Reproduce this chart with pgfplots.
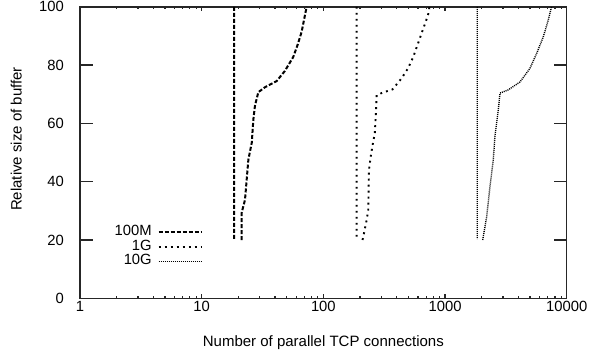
\documentclass[border=0pt]{standalone}
\usepackage{fontspec}
\setmainfont{Liberation Sans}
\usepackage{pgfplots}
\pgfplotsset{compat=1.18}
\begin{document}
\fontsize{15}{17.5}\selectfont
\begin{tikzpicture}
\begin{axis}[
  scale only axis, width=486.7pt, height=291.5pt,
  xmode=log, log basis x=10,
  xmin=1, xmax=10000, ymin=0, ymax=100,
  xtick={1,10,100,1000,10000}, xticklabels={1,10,100,1000,10000},
  minor xtick={2,3,...,9,20,30,...,90,200,300,...,900,2000,3000,...,9000},
  ytick={0,20,40,60,80,100}, yticklabels={0,20,40,60,80,100},
  /pgf/number format/assume math mode=true,
  tick align=inside, tick pos=both,
  xticklabel pos=bottom, yticklabel pos=left,
  axis line style={line width=1.5pt, black!85},
  major tick length=13pt,
  every tick/.style={line width=1.5pt, black!85},
  xtick style={/pgfplots/major tick length=4pt, /pgfplots/minor tick length=2.5pt, line width=1.2pt},
  yticklabel style={inner sep=0pt, xshift=-16pt, font=\fontsize{14.8}{17}\selectfont},
  xticklabel style={inner sep=0pt, yshift=-3pt, font=\fontsize{14.8}{17}\selectfont},
  xlabel={Number of parallel TCP connections},
  ylabel={Relative size of buffer},
  xlabel style={at={(axis description cs:0.5,-0.166)}, anchor=base, font=\fontsize{15}{17.5}\selectfont},
  ylabel style={at={(axis description cs:-0.1198,0.5465)}, anchor=base, font=\fontsize{15}{17.5}\selectfont},
  unbounded coords=jump,
  legend plot pos=right,
  legend cell align=right,
  legend image code/.code={\draw[#1] (0pt,0pt) -- (43pt,0pt);},
  legend style={draw=none, fill=none, at={(0.2526,0.254)}, anchor=north east,
    column sep=6pt, row sep=0pt, inner sep=0pt,
    nodes={inner sep=0pt, text height=10.7pt, text depth=4.2pt},
    font=\fontsize{14.8}{17}\selectfont},
]
\addplot[black, line width=2pt, dash pattern=on 4pt off 2pt] coordinates {
  (18.5,100) (18.5,20.3) (nan,nan)
  (21.3,20) (21.3,29.3) (22.7,33.8) (24.2,47.6) (25.8,53.4) (26.6,61.4)
  (27.4,66) (29.2,70.7) (33.1,72.4) (41.3,74.5) (48.3,78) (56.6,82.8)
  (61.5,87) (66.3,91.4) (72.9,100)
};
\addlegendentry{100M}
\addplot[black, line width=1.9pt, dash pattern=on 1.9pt off 4.1pt] coordinates {
  (187.6,100) (187.6,20.3) (nan,nan)
  (210,20) (216,22.4) (227,26.9) (234,30.3) (237,44) (245,48.6) (254,52.6)
  (265,56.7) (271,64.6) (274,69.7) (301,70.4) (371,71.7) (440,75.5)
  (498,79) (548,82.8) (602,87.6) (643,91) (697,95.1) (728,97.5) (745,100)
};
\addlegendentry{1G}
\addplot[black, line width=1.4pt, dash pattern=on 1pt off 1pt] coordinates {
  (1840,100) (1840,20.3) (nan,nan)
  (2040,20) (2200,28) (2340,38.3) (2490,47.4) (2570,55.4) (2740,64.6)
  (2830,70.4) (3310,71.5) (4130,74.2) (4990,78.9) (5660,84) (6410,89.6)
  (7050,95.4) (7510,100)
};
\addlegendentry{10G}
\end{axis}
\pgfresetboundingbox
\path ([xshift=-80pt,yshift=-57.7pt]current axis.south west) rectangle ([xshift=23.3pt,yshift=6.8pt]current axis.north east);
\end{tikzpicture}
\end{document}
